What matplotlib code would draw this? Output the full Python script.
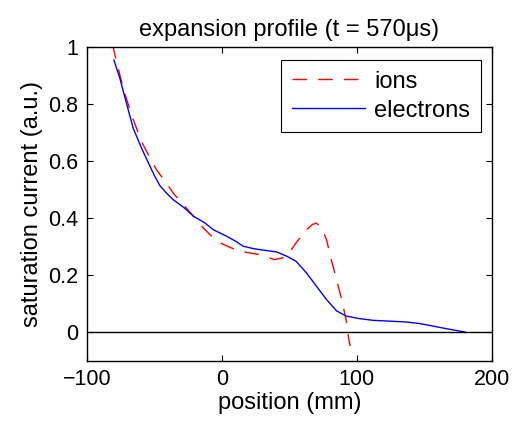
import matplotlib
matplotlib.use('Agg')
import matplotlib.pyplot as plt

plt.rcParams['font.family'] = ['Liberation Sans', 'DejaVu Sans']

# electrons (blue, solid)
elec_x = [-80, -75.5, -71.9, -65.7, -59.5, -55, -50, -46, -41, -36, -28, -21, -13, -6.4, 3.5, 10, 15.8, 23, 28,
          40.5, 48, 55, 62.7, 70, 77.5, 85, 92, 102, 112, 125, 137, 146, 154, 166, 173, 180]
elec_y = [0.955, 0.89, 0.825, 0.716, 0.646, 0.6, 0.55, 0.515, 0.488, 0.465, 0.437, 0.407, 0.385, 0.36, 0.337, 0.32, 0.302, 0.294, 0.29,
          0.282, 0.267, 0.249, 0.208, 0.162, 0.115, 0.075, 0.057, 0.048, 0.042, 0.039, 0.036, 0.031, 0.024, 0.013, 0.007, 0.001]

# ions (red, dashed)
ion_x = [-81, -78, -73, -66.9, -59.5, -52, -48.4, -41, -36, -27.4, -21, -13.8, -7.6, -1.5, 7, 15, 23, 28, 39, 45, 49,
         55, 62.7, 67, 70, 74, 77.5, 81, 85, 88.7, 92, 94, 95]
ion_y = [1.01, 0.949, 0.855, 0.762, 0.669, 0.6, 0.57, 0.523, 0.488, 0.442, 0.407, 0.366, 0.337, 0.314, 0.296, 0.284, 0.276, 0.273, 0.255, 0.261, 0.273,
         0.314, 0.36, 0.378, 0.383, 0.366, 0.325, 0.255, 0.185, 0.115, 0.045, -0.024, -0.048]

fig = plt.figure(figsize=(5.14, 4.25), dpi=100)
ax = fig.add_axes([0.169, 0.151, 0.788, 0.738])

ax.plot(ion_x, ion_y, color='r', linestyle=(0, (10.5, 8)), linewidth=1, label='ions')
ax.plot(elec_x, elec_y, color='b', linewidth=1, label='electrons')
ax.axhline(0, color='k', linewidth=1)

ax.set_xlim(-100, 200)
ax.set_ylim(-0.1, 1)
ax.set_xticks([-100, 0, 100, 200])
ax.set_xticklabels(['\u2212100', '0', '100', '200'])
ax.set_yticks([0, 0.2, 0.4, 0.6, 0.8, 1])
ax.set_yticklabels(['0', '0.2', '0.4', '0.6', '0.8', '1'])
ax.tick_params(direction='in', top=True, right=True, labelsize=15.5, length=4, pad=6)
for s in ax.spines.values():
    s.set_linewidth(1)

ax.set_xlabel('position (mm)', fontsize=17, labelpad=1)
ax.set_ylabel('saturation current (a.u.)', fontsize=17, labelpad=4)
ax.set_title('expansion profile (t = 570\u03bcs)', fontsize=17, pad=8)

leg = ax.legend(loc='upper right', bbox_to_anchor=(0.973, 0.959), borderaxespad=0,
                fontsize=17, fancybox=False, edgecolor='k', framealpha=1,
                handlelength=3.1, handletextpad=0.4, borderpad=0.45, labelspacing=0.3)
leg.get_frame().set_linewidth(0.8)

fig.savefig('out.png', dpi=100)
